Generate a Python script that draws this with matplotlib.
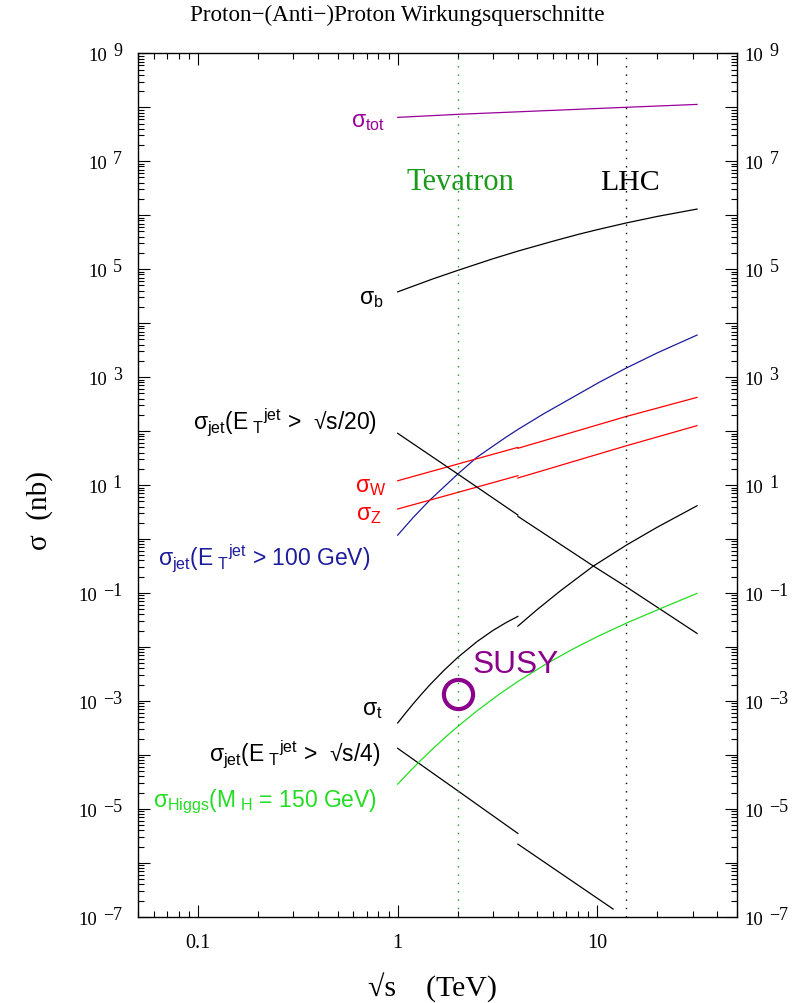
import numpy as np
import matplotlib

matplotlib.use("Agg")
import matplotlib.pyplot as plt
from matplotlib.ticker import LogLocator, NullFormatter, FixedLocator

plt.rcParams["mathtext.fontset"] = "custom"
plt.rcParams["mathtext.rm"] = "Liberation Sans"
plt.rcParams["mathtext.it"] = "Liberation Sans:italic"
plt.rcParams["mathtext.bf"] = "Liberation Sans:bold"

SERIF = ["Liberation Serif", "DejaVu Serif"]
SANS = ["Liberation Sans", "DejaVu Sans"]

# sqrt(s) in TeV, sigma in nb
tot_s = [1, 2, 14, 31.6]
tot_sig = [6.5e7, 7.4e7, 1.0e8, 1.13e8]

b_s = [1, 1.5, 2, 3, 4, 6, 8, 10, 14, 20, 31.6]
b_sig = [3.8e4, 6.6e4, 9.5e4, 1.56e5, 2.16e5, 3.3e5, 4.4e5, 5.4e5, 7.2e5, 9.5e5, 1.3e6]

jet100_s = [1, 1.2, 1.45, 2, 2.49, 3.45, 4, 5.36, 10.3, 14, 20, 31.6]
jet100_sig = [1.18, 2.54, 5.27, 16, 32.6, 75, 107, 207, 813, 1480, 2818, 6010]

w_s_lo, w_sig_lo = [1, 2, 4], [12, 24.5, 49.9]
w_s_hi, w_sig_hi = [4, 14, 31.6], [47.9, 187, 421]

z_s_lo, z_sig_lo = [1, 2, 4], [3.6, 7.3, 14.9]
z_s_hi, z_sig_hi = [4, 14, 31.6], [13.5, 53.5, 126]

jet20_s_lo, jet20_sig_lo = [1, 2, 4], [90.8, 16, 2.78]
jet20_s_hi, jet20_sig_hi = [4, 9.5, 14, 31.6], [2.63, 0.32, 0.129, 0.0178]

top_s_lo = [1, 1.1, 1.2, 1.32, 1.45, 1.7, 2, 2.5, 3, 3.5, 4]
top_sig_lo = [3.9e-4, 6.07e-4, 8.97e-4, 1.35e-3, 1.99e-3, 3.64e-3, 6.4e-3, 0.0126, 0.0202, 0.0284, 0.0368]
top_s_hi = [4, 5, 6.5, 9.5, 14, 20, 31.6]
top_sig_hi = [0.0243, 0.0493, 0.108, 0.311, 0.773, 1.66, 4.13]

higgs_s = [1, 1.15, 1.29, 1.5, 1.75, 2, 2.5, 3.2, 4, 5.5, 7.5, 10, 14, 20, 31.6]
higgs_sig = [2.87e-5, 4.95e-5, 7.6e-5, 1.30e-4, 2.19e-4, 3.36e-4, 6.57e-4, 1.30e-3,
             2.29e-3, 4.76e-3, 9.04e-3, 0.0155, 0.0277, 0.0486, 0.0984]

jet4_s_lo, jet4_sig_lo = [1, 2, 4], [1.32e-4, 2.16e-5, 3.5e-6]
jet4_s_hi, jet4_sig_hi = [4, 12], [2.22e-6, 1.39e-7]

susy_s, susy_sig = [2.0], [1.34e-3]

tevatron_s = 2.0
lhc_s = 14.0

ylabel_exps = [9, 7, 5, 3, 1, -1, -3, -5, -7]
xtick_vals = [0.1, 1, 10]
xtick_labels = ["0.1", "1", "10"]

PURPLE = "#990099"
BLUE = "#1c1c9c"
RED = "#ff0000"
GREEN = "#22dd22"
DKGREEN = "#1a9a1a"

fig = plt.figure(figsize=(7.94, 10.04), dpi=100)
ax = fig.add_axes([0.1738, 0.0859, 0.928 - 0.1738, 0.9459 - 0.0859])
ax.set_xscale("log")
ax.set_yscale("log")
ax.set_xlim(0.05, 50)
ax.set_ylim(1e-7, 1e9)

lw = 0.9
ax.plot(tot_s, tot_sig, color=PURPLE, lw=lw)
ax.plot(b_s, b_sig, color="black", lw=lw)
ax.plot(jet100_s, jet100_sig, color=BLUE, lw=lw)
for xs, ys in [(w_s_lo, w_sig_lo), (w_s_hi, w_sig_hi), (z_s_lo, z_sig_lo), (z_s_hi, z_sig_hi)]:
    ax.plot(xs, ys, color=RED, lw=lw)
for xs, ys in [(jet20_s_lo, jet20_sig_lo), (jet20_s_hi, jet20_sig_hi),
               (top_s_lo, top_sig_lo), (top_s_hi, top_sig_hi),
               (jet4_s_lo, jet4_sig_lo), (jet4_s_hi, jet4_sig_hi)]:
    ax.plot(xs, ys, color="black", lw=lw)
ax.plot(higgs_s, higgs_sig, color=GREEN, lw=lw)

ax.axvline(tevatron_s, color=DKGREEN, lw=1.0, ls=(0, (1, 5)))
ax.axvline(lhc_s, color="black", lw=1.0, ls=(0, (1, 5)))

ax.plot(susy_s, susy_sig, "o", ms=21, mfc="none", mec="#8b008b", mew=3.0)

# ticks
ax.xaxis.set_major_locator(FixedLocator(xtick_vals))
ax.xaxis.set_minor_locator(LogLocator(base=10, subs=np.arange(2, 10), numticks=50))
ax.xaxis.set_minor_formatter(NullFormatter())
ax.set_xticklabels(xtick_labels, fontfamily=SERIF, fontsize=14.5)
ax.yaxis.set_major_locator(FixedLocator(10.0 ** np.arange(-7, 10)))
ax.yaxis.set_minor_locator(LogLocator(base=10, subs=np.arange(2, 10), numticks=50))
ax.yaxis.set_minor_formatter(NullFormatter())
ax.set_yticklabels([])
ax.tick_params(which="both", direction="in", top=True, right=True, width=0.8)
ax.tick_params(which="major", length=8.6)
ax.tick_params(which="minor", length=4.5)
ax.tick_params(axis="x", pad=12)
for sp in ax.spines.values():
    sp.set_linewidth(1.0)

# y tick labels: "10" plus raised exponent on both sides
fig.canvas.draw()
rend = fig.canvas.get_renderer()
trans_l = ("axes fraction", "data")
for e in ylabel_exps:
    es = str(e).replace("-", "\u2212")
    t_exp = ax.annotate(es, xy=(0, 10.0 ** e), xycoords=trans_l, xytext=(-16, 2.5),
                        textcoords="offset pixels", ha="right", va="center",
                        fontfamily=SERIF, fontsize=13)
    w = t_exp.get_window_extent(rend).width
    ax.annotate("10", xy=(0, 10.0 ** e), xycoords=trans_l, xytext=(-16 - w - 6, -2.5),
                textcoords="offset pixels", ha="right", va="center",
                fontfamily=SERIF, fontsize=13.5)
    t10 = ax.annotate("10", xy=(1, 10.0 ** e), xycoords=trans_l, xytext=(8, -2.5),
                      textcoords="offset pixels", ha="left", va="center",
                      fontfamily=SERIF, fontsize=13.5)
    w10 = t10.get_window_extent(rend).width
    ax.annotate(es, xy=(1, 10.0 ** e), xycoords=trans_l, xytext=(8 + w10 + 6, 2.5),
                textcoords="offset pixels", ha="left", va="center",
                fontfamily=SERIF, fontsize=13)

# curve labels
lab = dict(ha="right", va="baseline", fontfamily=SANS, fontsize=16.5, math_fontfamily="custom")
ax.text(0.864, 4.5e7, r"σ$_{\mathrm{tot}}$", color=PURPLE, **lab)
ax.text(0.854, 2.36e4, r"σ$_{\mathrm{b}}$", color="black", **lab)
ax.text(0.788, 109, r"σ$_{\mathrm{jet}}$(E$_{\ \mathrm{T}}{}^{\mathrm{jet}}$ >  √s/20)", color="black", **lab)
ax.text(0.881, 7.7, r"σ$_{\mathrm{W}}$", color=RED, **lab)
ax.text(0.831, 2.34, r"σ$_{\mathrm{Z}}$", color=RED, **lab)
ax.text(0.726, 0.329, r"σ$_{\mathrm{jet}}$(E$_{\ \mathrm{T}}{}^{\mathrm{jet}}$ > 100 GeV)", color=BLUE, **lab)
ax.text(0.841, 5.7e-4, r"σ$_{\mathrm{t}}$", color="black", **lab)
ax.text(0.815, 7.7e-5, r"σ$_{\mathrm{jet}}$(E$_{\ \mathrm{T}}{}^{\mathrm{jet}}$ >  √s/4)", color="black", **lab)
ax.text(0.788, 1.1e-5, r"σ$_{\mathrm{Higgs}}$(M$_{\ \mathrm{H}}$ = 150 GeV)", color=GREEN, **lab)

ax.text(1.113, 3.05e6, "Tevatron", color=DKGREEN, fontfamily=SERIF, fontsize=22, va="baseline")
ax.text(10.3, 3.05e6, "LHC", color="black", fontfamily=SERIF, fontsize=21.5, va="baseline")
ax.text(2.36, 3.4e-3, "SUSY", color="#8b008b", fontfamily=SANS, fontsize=22.8, va="baseline")

fig.text(397 / 794, 1 - 15 / 1004, "Proton\u2212(Anti\u2212)Proton Wirkungsquerschnitte",
         ha="center", va="center", fontfamily=SERIF, fontsize=16.7)
fig.text(432 / 794, 1 - 988 / 1004, "√s    (TeV)", ha="center", va="center",
         fontfamily=SERIF, fontsize=21.5)
fig.text(40 / 794, 1 - 511 / 1004, "σ  (nb)", ha="center", va="center", rotation=90,
         fontfamily=SERIF, fontsize=21)

fig.savefig("out.png", dpi=100)
